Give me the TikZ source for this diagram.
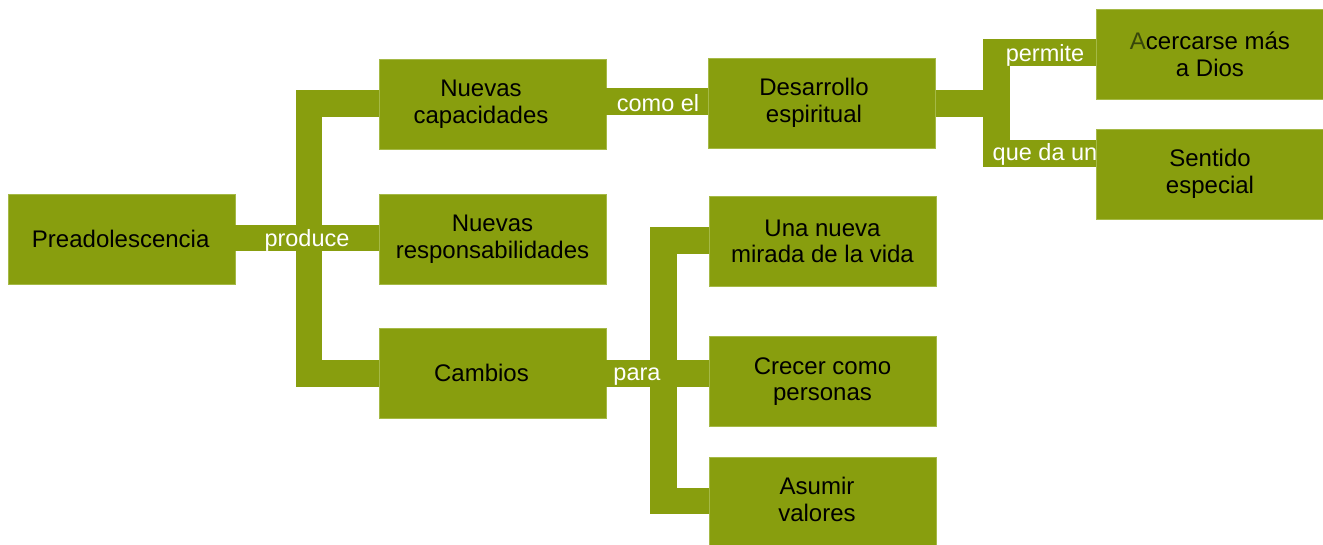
\documentclass[tikz,border=0pt]{standalone}
\usepackage{fontspec}
\setmainfont{Liberation Sans}
\definecolor{olive}{RGB}{136,158,14}
\definecolor{oliveedge}{RGB}{165,185,70}
\definecolor{darkA}{RGB}{55,70,10}
\begin{document}
\begin{tikzpicture}[x=1pt,y=-1pt,
  box/.style={fill=olive,draw=oliveedge,line width=0.5pt,minimum width=227pt,minimum height=90pt,
    inner sep=0pt,align=center,text=black,font=\fontsize{24}{26.7}\selectfont},
  bar/.style={draw=olive,line width=26.7pt,line join=miter,line cap=butt},
  lab/.style={text=white,anchor=base,inner sep=0pt,font=\fontsize{23.5}{26.7}\selectfont}]
\useasboundingbox (0,0) rectangle (1323,544);
% joints
\coordinate (j1) at (309,238);
\coordinate (j2) at (996.7,103.3);
\coordinate (j3) at (663.3,373.3);
\path
  (121.7,239) coordinate (cpre)
  (492.5,104.5) coordinate (cnc)
  (492.5,239.5) coordinate (cnr)
  (492.5,373.3) coordinate (cca)
  (822,103.5) coordinate (cde)
  (822.5,241.5) coordinate (cun)
  (822.5,381.5) coordinate (ccr)
  (822.5,502.5) coordinate (cas)
  (1210,54) coordinate (cac)
  (1210,174) coordinate (cse);
% boxes
\node[box] (pre) at (cpre) {\hspace*{-2pt}Preadolescencia};
\node[box] (nc) at (cnc) {\hspace*{-23pt}\begin{tabular}{@{}c@{}}Nuevas\\capacidades\end{tabular}};
\node[box] (nr) at (cnr) {Nuevas\\responsabilidades};
\node[box] (ca) at (cca) {\hspace*{-22pt}Cambios};
\node[box] (de) at (cde) {\hspace*{-16pt}\begin{tabular}{@{}c@{}}Desarrollo\\espiritual\end{tabular}};
\node[box] (un) at (cun) {Una nueva\\mirada de la vida};
\node[box] (cr) at (ccr) {Crecer como\\personas};
\node[box] (as) at (cas) {\hspace*{-11pt}\begin{tabular}{@{}c@{}}Asumir\\valores\end{tabular}};
\node[box] (ac) at (cac) {\textcolor{darkA}{A}cercarse más\\a Dios};
\node[box] (se) at (cse) {Sentido\\especial};
% connectors
\draw[bar] (pre.east |- j1) -- (j1 -| nr.west);
\draw[bar] (nc.west |- 0,103.3) -- (j1 |- 0,103.3) -- (j1 |- 0,373.3) -- (ca.west |- 0,373.3);
\draw[bar] (nc.east |- 0,101.7) -- (de.west |- 0,101.7);
\draw[bar] (de.east |- j2) -- (j2);
\draw[bar] (ac.west |- 0,52.8) -- (j2 |- 0,52.8) -- (j2 |- 0,153.3) -- (se.west |- 0,153.3);
\draw[bar] (ca.east |- j3) -- (j3 -| cr.west);
\draw[bar] (un.west |- 0,240.3) -- (j3 |- 0,240.3) -- (j3 |- 0,501) -- (as.west |- 0,501);
% labels
\node[lab] (lproduce) at (307,246.7) {produce};
\node[lab] (lcomo) at (658,111) {como el};
\node[lab] (lpara) at (637,380) {para};
\node[lab] (lpermite) at (1045,61.7) {permite};
\node[lab] (lque) at (1045,160) {que da un};
\end{tikzpicture}
\end{document}
